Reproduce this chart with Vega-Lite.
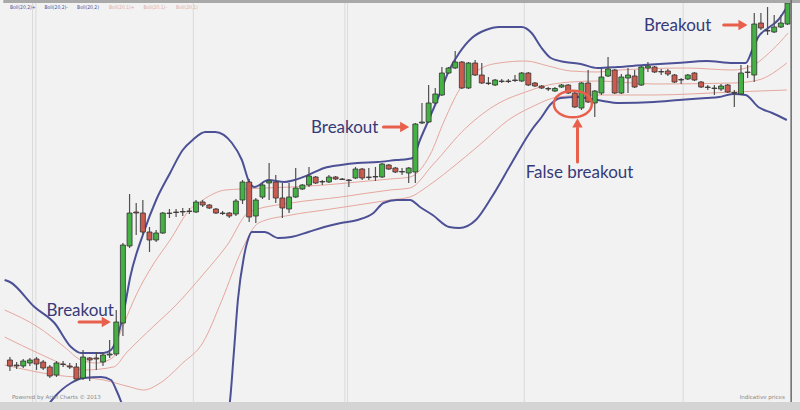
{
  "$schema": "https://vega.github.io/schema/vega-lite/v6.json",
  "width": 800,
  "height": 402,
  "autosize": {"type": "none"},
  "padding": {"left": 0, "top": 0, "right": 0, "bottom": 8},
  "background": "#d4d4d4",
  "config": {"view": {"fill": "#f2f2f2", "stroke": null}},
  "datasets": {
    "candles": [
      {"i":0,"o":42,"c":36,"h":45,"l":31},{"i":1,"o":37,"c":36,"h":40,"l":33},{"i":2,"o":36,"c":41,"h":43,"l":34},{"i":3,"o":39,"c":42,"h":44,"l":36},
      {"i":4,"o":43,"c":38,"h":45,"l":32},{"i":5,"o":40,"c":34,"h":42,"l":32},{"i":6,"o":35,"c":26,"h":37,"l":24},{"i":7,"o":27,"c":39,"h":41,"l":25},
      {"i":8,"o":38,"c":37.5,"h":41,"l":35},{"i":9,"o":36,"c":35,"h":39,"l":33},{"i":10,"o":35,"c":23,"h":39,"l":21},{"i":11,"o":24,"c":45,"h":52,"l":22},
      {"i":12,"o":44,"c":42,"h":45,"l":21},{"i":13,"o":44,"c":43,"h":50,"l":32},{"i":14,"o":40,"c":47,"h":50,"l":36},{"i":15,"o":47,"c":48,"h":62,"l":44},
      {"i":16,"o":48,"c":80,"h":92,"l":46},{"i":17,"o":79,"c":157,"h":159,"l":66},{"i":18,"o":156,"c":189,"h":208,"l":154},{"i":19,"o":190,"c":189,"h":199,"l":167},
      {"i":20,"o":189,"c":170,"h":202,"l":167},{"i":21,"o":170,"c":162,"h":175,"l":150},{"i":22,"o":162,"c":169,"h":172,"l":160},{"i":23,"o":169,"c":189,"h":190,"l":168},
      {"i":24,"o":189,"c":188.5,"h":193,"l":184},{"i":25,"o":190,"c":189.5,"h":193,"l":185},{"i":26,"o":190.5,"c":190,"h":194,"l":186},{"i":27,"o":191,"c":190.5,"h":194,"l":188},
      {"i":28,"o":190,"c":200,"h":202,"l":189},{"i":29,"o":200,"c":197,"h":202,"l":195},{"i":30,"o":197,"c":194,"h":198,"l":193},{"i":31,"o":193,"c":189,"h":194,"l":188},
      {"i":32,"o":189,"c":188.5,"h":191,"l":187},{"i":33,"o":189,"c":186,"h":190,"l":184},{"i":34,"o":188,"c":201,"h":203,"l":186},{"i":35,"o":202,"c":220,"h":222,"l":198},
      {"i":36,"o":220,"c":185,"h":223,"l":180},{"i":37,"o":186,"c":202,"h":204,"l":179},{"i":38,"o":205,"c":217,"h":219,"l":203},{"i":39,"o":219,"c":221,"h":239,"l":202},
      {"i":40,"o":220,"c":204,"h":227,"l":199},{"i":41,"o":204,"c":194,"h":219,"l":184},{"i":42,"o":193,"c":205,"h":219,"l":189},{"i":43,"o":205,"c":214,"h":234,"l":204},
      {"i":44,"o":213,"c":217,"h":218,"l":212},{"i":45,"o":217,"c":226,"h":235,"l":215},{"i":46,"o":225,"c":219,"h":226,"l":218},{"i":47,"o":220.5,"c":220,"h":222,"l":217},
      {"i":48,"o":220,"c":225,"h":227,"l":219},{"i":49,"o":225,"c":223,"h":226,"l":222},{"i":50,"o":223,"c":222.5,"h":224,"l":222},{"i":51,"o":222,"c":221.5,"h":223,"l":215},
      {"i":52,"o":224,"c":233,"h":235,"l":223},{"i":53,"o":233,"c":224,"h":234,"l":222},{"i":54,"o":225,"c":224.5,"h":234,"l":222},{"i":55,"o":225.5,"c":225,"h":235,"l":221},
      {"i":56,"o":225,"c":238,"h":239,"l":224},{"i":57,"o":237,"c":233,"h":238,"l":232},{"i":58,"o":234,"c":230,"h":235,"l":229},{"i":59,"o":230.5,"c":230,"h":234,"l":227},
      {"i":60,"o":229,"c":234,"h":235,"l":219},{"i":61,"o":230,"c":278,"h":279,"l":219},{"i":62,"o":279,"c":280,"h":299,"l":278},{"i":63,"o":280,"c":299,"h":317,"l":279},
      {"i":64,"o":299,"c":308,"h":314,"l":298},{"i":65,"o":307,"c":329,"h":335,"l":306},{"i":66,"o":329,"c":334,"h":335,"l":328},{"i":67,"o":334,"c":340,"h":351,"l":333},
      {"i":68,"o":340,"c":314,"h":341,"l":313},{"i":69,"o":314,"c":339,"h":340,"l":313},{"i":70,"o":339,"c":327,"h":342,"l":326},{"i":71,"o":327,"c":319,"h":339,"l":318},
      {"i":72,"o":319,"c":318.5,"h":325,"l":317},{"i":73,"o":317,"c":322,"h":323,"l":316},{"i":74,"o":321,"c":320.5,"h":323,"l":319},{"i":75,"o":321,"c":320.5,"h":323,"l":319},
      {"i":76,"o":322,"c":321.5,"h":327,"l":320},{"i":77,"o":321,"c":329,"h":330,"l":320},{"i":78,"o":329,"c":317,"h":330,"l":316},{"i":79,"o":319,"c":316,"h":320,"l":315},
      {"i":80,"o":316,"c":314,"h":317,"l":313},{"i":81,"o":313.5,"c":313,"h":315,"l":311},{"i":82,"o":311,"c":313.5,"h":315,"l":310},{"i":83,"o":315,"c":317,"h":318,"l":314},
      {"i":84,"o":317,"c":309,"h":318,"l":308},{"i":85,"o":309,"c":295,"h":310,"l":294},{"i":86,"o":294,"c":319,"h":320,"l":292},{"i":87,"o":319,"c":300,"h":332,"l":299},
      {"i":88,"o":299,"c":311,"h":312,"l":285},{"i":89,"o":309,"c":325,"h":335,"l":307},{"i":90,"o":326,"c":333,"h":345,"l":325},{"i":91,"o":332,"c":309,"h":333,"l":308},
      {"i":92,"o":309,"c":325,"h":328,"l":308},{"i":93,"o":324,"c":327,"h":334,"l":309},{"i":94,"o":326,"c":315,"h":332,"l":314},{"i":95,"o":317,"c":335,"h":336,"l":316},
      {"i":96,"o":334,"c":336,"h":340,"l":330},{"i":97,"o":335,"c":330,"h":336,"l":329},{"i":98,"o":330.5,"c":330,"h":333,"l":327},{"i":99,"o":331,"c":328,"h":333,"l":326},
      {"i":100,"o":327,"c":320,"h":328,"l":319},{"i":101,"o":322.5,"c":322,"h":324,"l":318},{"i":102,"o":323,"c":327,"h":328,"l":322},{"i":103,"o":329,"c":322,"h":330,"l":321},
      {"i":104,"o":320,"c":315,"h":321,"l":314},{"i":105,"o":315,"c":314.5,"h":317,"l":312},{"i":106,"o":314,"c":313.5,"h":317,"l":307},{"i":107,"o":313,"c":316,"h":318,"l":311},
      {"i":108,"o":317,"c":310,"h":318,"l":309},{"i":109,"o":309.5,"c":309,"h":312,"l":295},{"i":110,"o":308,"c":329,"h":337,"l":307},{"i":111,"o":330,"c":329.5,"h":337,"l":324},
      {"i":112,"o":327,"c":378,"h":389,"l":320},{"i":113,"o":379,"c":374,"h":389,"l":372},{"i":114,"o":371.5,"c":371,"h":395,"l":367},{"i":115,"o":370,"c":375,"h":387,"l":369},
      {"i":116,"o":375,"c":379,"h":387,"l":374},{"i":117,"o":378,"c":399,"h":400,"l":377}
    ],
    "bands": [
      {"s":"bu","i":-0.8,"v":122},{"s":"bu","i":0,"v":120},{"s":"bu","i":3.7,"v":95},{"s":"bu","i":6.7,"v":79},{"s":"bu","i":9.2,"v":55},{"s":"bu","i":10.7,"v":49},{"s":"bu","i":14.1,"v":49},{"s":"bu","i":15.2,"v":52},{"s":"bu","i":16,"v":62},{"s":"bu","i":17.1,"v":89},{"s":"bu","i":18.1,"v":125},{"s":"bu","i":20.1,"v":169},{"s":"bu","i":22,"v":202},{"s":"bu","i":24.1,"v":229},{"s":"bu","i":26,"v":252},{"s":"bu","i":27.5,"v":262},{"s":"bu","i":29.4,"v":270},{"s":"bu","i":30.9,"v":270},{"s":"bu","i":33.4,"v":259},{"s":"bu","i":34.9,"v":242},{"s":"bu","i":36,"v":220},{"s":"bu","i":36.8,"v":215},{"s":"bu","i":38.9,"v":222},{"s":"bu","i":41.3,"v":220},{"s":"bu","i":42.8,"v":222},{"s":"bu","i":44.9,"v":227},{"s":"bu","i":47.3,"v":234},{"s":"bu","i":49.8,"v":237},{"s":"bu","i":52.3,"v":239},{"s":"bu","i":55.3,"v":240},{"s":"bu","i":58.2,"v":242},{"s":"bu","i":59.9,"v":243},{"s":"bu","i":60.6,"v":244},{"s":"bu","i":61.7,"v":262},{"s":"bu","i":63.2,"v":285},{"s":"bu","i":64.6,"v":307},{"s":"bu","i":66.1,"v":332},{"s":"bu","i":67.6,"v":349},{"s":"bu","i":69.5,"v":364},{"s":"bu","i":71.6,"v":372},{"s":"bu","i":73.6,"v":375},{"s":"bu","i":77,"v":375},{"s":"bu","i":78.5,"v":369},{"s":"bu","i":79.9,"v":355},{"s":"bu","i":81.4,"v":344},{"s":"bu","i":83.5,"v":340},{"s":"bu","i":85.9,"v":338},{"s":"bu","i":88.4,"v":334},{"s":"bu","i":91.4,"v":335},{"s":"bu","i":95.4,"v":337},{"s":"bu","i":100.3,"v":339},{"s":"bu","i":104.8,"v":341},{"s":"bu","i":108.8,"v":339},{"s":"bu","i":110.7,"v":339},{"s":"bu","i":111.7,"v":352},{"s":"bu","i":112.6,"v":365},{"s":"bu","i":114.1,"v":374},{"s":"bu","i":115.6,"v":382},{"s":"bu","i":117.1,"v":397},
      {"s":"bl","i":5.2,"v":-8},{"s":"bl","i":6.7,"v":5},{"s":"bl","i":9.2,"v":19},{"s":"bl","i":11.1,"v":24},{"s":"bl","i":13.7,"v":25},{"s":"bl","i":15.2,"v":22},{"s":"bl","i":16,"v":12},{"s":"bl","i":16.8,"v":-1},{"s":"bl","i":18,"v":-25},{"s":"bl","i":25,"v":-70},{"s":"bl","i":32,"v":-25},{"s":"bl","i":33,"v":-5},{"s":"bl","i":33.7,"v":50},{"s":"bl","i":34.3,"v":102},{"s":"bl","i":35.2,"v":145},{"s":"bl","i":35.8,"v":162},{"s":"bl","i":36.4,"v":170},{"s":"bl","i":38.3,"v":170},{"s":"bl","i":40.4,"v":164},{"s":"bl","i":42.3,"v":165},{"s":"bl","i":44.9,"v":170},{"s":"bl","i":47.3,"v":175},{"s":"bl","i":49.8,"v":179},{"s":"bl","i":52.3,"v":182},{"s":"bl","i":54.7,"v":189},{"s":"bl","i":56.2,"v":199},{"s":"bl","i":58.2,"v":202},{"s":"bl","i":60.2,"v":202},{"s":"bl","i":61.7,"v":195},{"s":"bl","i":63.6,"v":187},{"s":"bl","i":66.1,"v":175},{"s":"bl","i":67.6,"v":174},{"s":"bl","i":70.1,"v":182},{"s":"bl","i":72.5,"v":205},{"s":"bl","i":75.5,"v":239},{"s":"bl","i":78.5,"v":272},{"s":"bl","i":79.9,"v":284},{"s":"bl","i":81.4,"v":298},{"s":"bl","i":82.9,"v":304},{"s":"bl","i":85.4,"v":305},{"s":"bl","i":88.4,"v":302},{"s":"bl","i":91.8,"v":299},{"s":"bl","i":96.9,"v":300},{"s":"bl","i":100.7,"v":302},{"s":"bl","i":104.8,"v":304},{"s":"bl","i":106.7,"v":305},{"s":"bl","i":108.8,"v":308},{"s":"bl","i":110.7,"v":307},{"s":"bl","i":112.6,"v":295},{"s":"bl","i":114.7,"v":289},{"s":"bl","i":116.9,"v":282},
      {"s":"pu","i":-0.8,"v":92},{"s":"pu","i":4.2,"v":75},{"s":"pu","i":8.2,"v":55},{"s":"pu","i":10.7,"v":42},{"s":"pu","i":13.1,"v":39},{"s":"pu","i":15.6,"v":45},{"s":"pu","i":16,"v":57},{"s":"pu","i":17.1,"v":77},{"s":"pu","i":19,"v":107},{"s":"pu","i":21.5,"v":137},{"s":"pu","i":24.1,"v":162},{"s":"pu","i":27,"v":192},{"s":"pu","i":29,"v":202},{"s":"pu","i":32.4,"v":212},{"s":"pu","i":34.9,"v":213},{"s":"pu","i":42.3,"v":215},{"s":"pu","i":47.3,"v":217},{"s":"pu","i":52.3,"v":220},{"s":"pu","i":57.2,"v":223},{"s":"pu","i":60.2,"v":225},{"s":"pu","i":63.2,"v":247},{"s":"pu","i":65.4,"v":282},{"s":"pu","i":67.6,"v":312},{"s":"pu","i":71,"v":334},{"s":"pu","i":73.6,"v":339},{"s":"pu","i":77.6,"v":341},{"s":"pu","i":81,"v":336},{"s":"pu","i":84.4,"v":331},{"s":"pu","i":88.4,"v":330},{"s":"pu","i":91.8,"v":332},{"s":"pu","i":101.8,"v":334},{"s":"pu","i":108.8,"v":332},{"s":"pu","i":111.6,"v":336},{"s":"pu","i":114.7,"v":352},{"s":"pu","i":117.1,"v":369},
      {"s":"pm","i":-0.8,"v":65},{"s":"pm","i":4.2,"v":49},{"s":"pm","i":9.2,"v":35},{"s":"pm","i":11.1,"v":32},{"s":"pm","i":15.6,"v":35},{"s":"pm","i":17.5,"v":49},{"s":"pm","i":21.5,"v":75},{"s":"pm","i":25,"v":97},{"s":"pm","i":29,"v":127},{"s":"pm","i":32.7,"v":157},{"s":"pm","i":36,"v":190},{"s":"pm","i":42.3,"v":199},{"s":"pm","i":49.8,"v":205},{"s":"pm","i":57.2,"v":212},{"s":"pm","i":60.2,"v":214},{"s":"pm","i":63.6,"v":237},{"s":"pm","i":68.6,"v":274},{"s":"pm","i":73.6,"v":299},{"s":"pm","i":77.6,"v":310},{"s":"pm","i":81,"v":317},{"s":"pm","i":84.4,"v":320},{"s":"pm","i":88.4,"v":321},{"s":"pm","i":96.9,"v":318},{"s":"pm","i":108.8,"v":319},{"s":"pm","i":112.6,"v":322},{"s":"pm","i":116.9,"v":339},
      {"s":"pl","i":-0.8,"v":37},{"s":"pl","i":6.7,"v":27},{"s":"pl","i":14.1,"v":22},{"s":"pl","i":18.1,"v":15},{"s":"pl","i":20.1,"v":12},{"s":"pl","i":22.6,"v":19},{"s":"pl","i":26,"v":39},{"s":"pl","i":29,"v":59},{"s":"pl","i":31.9,"v":102},{"s":"pl","i":34.9,"v":152},{"s":"pl","i":37.4,"v":179},{"s":"pl","i":42.3,"v":187},{"s":"pl","i":47.3,"v":192},{"s":"pl","i":52.3,"v":197},{"s":"pl","i":57.2,"v":202},{"s":"pl","i":60.2,"v":205},{"s":"pl","i":62.7,"v":215},{"s":"pl","i":66.1,"v":232},{"s":"pl","i":71,"v":259},{"s":"pl","i":75,"v":282},{"s":"pl","i":78.5,"v":295},{"s":"pl","i":82.5,"v":305},{"s":"pl","i":86.9,"v":307},{"s":"pl","i":96.9,"v":307},{"s":"pl","i":108.8,"v":310},{"s":"pl","i":116.9,"v":312}
    ],
    "vgrid": [{"i":3.4},{"i":3.9},{"i":27.6},{"i":50.4},{"i":50.8},{"i":77.4},{"i":101.3}],
    "frame": [{"i":-1,"i2":119,"v":399,"v2":402}],
    "border": [{"i":117.55}],
    "notes": [
      {"i":5.5,"v":91,"t":"Breakout"},
      {"i":45.3,"v":274,"t":"Breakout"},
      {"i":77.6,"v":229,"t":"False breakout"},
      {"i":95.4,"v":376,"t":"Breakout"}
    ],
    "legend": [
      {"i":0,"v":395,"t":"Boll(20,2)+","k":"b"},
      {"i":5.2,"v":395,"t":"Boll(20,2)-","k":"b"},
      {"i":10.1,"v":395,"t":"Boll(20,2)","k":"b"},
      {"i":14.9,"v":395,"t":"Boll(20,1)+","k":"p"},
      {"i":20.1,"v":395,"t":"Boll(20,1)-","k":"p"},
      {"i":25.0,"v":395,"t":"Boll(20,1)","k":"p"}
    ],
    "footLeft": [{"i":0.3,"v":5,"t":"Powered by Ariel Charts © 2013"}],
    "footRight": [{"i":116.6,"v":5,"t":"Indicative prices"}],
    "shafts": [
      {"i":10.4,"v":80,"i2":14.0,"v2":80},
      {"i":56.2,"v":275,"i2":58.9,"v2":275},
      {"i":85.4,"v":240,"i2":85.4,"v2":274},
      {"i":107.4,"v":377,"i2":109.8,"v2":377}
    ],
    "heads": [
      {"i":14.5,"v":80,"d":"triangle-right"},
      {"i":59.4,"v":275,"d":"triangle-right"},
      {"i":85.4,"v":279,"d":"triangle-up"},
      {"i":110.3,"v":377,"d":"triangle-right"}
    ],
    "ring": [{"i":84.7,"v":298}]
  },
  "layer": [
    {
      "data": {"name": "vgrid"},
      "mark": {"type": "rule", "color": "#dadada", "strokeWidth": 1},
      "encoding": {
        "x": {"field": "i", "type": "quantitative", "scale": {"domain": [-0.743, 118.13], "nice": false, "zero": false},
              "axis": {"labels": false, "title": null, "grid": false, "tickCount": 60, "tickSize": 4, "tickColor": "#555555", "domainColor": "#666666", "domainWidth": 1.5}}
      }
    },
    {
      "data": {"name": "bands"},
      "transform": [{"filter": {"field": "s", "oneOf": ["pu", "pm", "pl"]}}],
      "mark": {"type": "line", "color": "#e6a79e", "strokeWidth": 1, "interpolate": "monotone", "clip": true},
      "encoding": {
        "x": {"field": "i", "type": "quantitative", "scale": {"domain": [-0.743, 118.13], "nice": false, "zero": false}, "axis": null},
        "y": {"field": "v", "type": "quantitative", "scale": {"domain": [0, 402], "nice": false, "zero": false},
              "axis": {"grid": true, "values": [82, 165, 247, 329], "labels": false, "ticks": false, "domain": false, "title": null, "gridColor": "#dcdcdc"}},
        "detail": {"field": "s"}
      }
    },
    {
      "data": {"name": "bands"},
      "transform": [{"filter": {"field": "s", "oneOf": ["bu", "bl"]}}],
      "mark": {"type": "line", "color": "#4c5196", "strokeWidth": 2, "interpolate": "monotone", "clip": true},
      "encoding": {
        "x": {"field": "i", "type": "quantitative", "scale": {"domain": [-0.743, 118.13], "nice": false, "zero": false}, "axis": null},
        "y": {"field": "v", "type": "quantitative", "scale": {"domain": [0, 402], "nice": false, "zero": false}, "axis": null},
        "detail": {"field": "s"}
      }
    },
    {
      "data": {"name": "candles"},
      "mark": {"type": "rule", "color": "#505050", "strokeWidth": 1.2},
      "encoding": {
        "x": {"field": "i", "type": "quantitative", "scale": {"domain": [-0.743, 118.13], "nice": false, "zero": false}, "axis": null},
        "y": {"field": "l", "type": "quantitative", "scale": {"domain": [0, 402], "nice": false, "zero": false}, "axis": null},
        "y2": {"field": "h"}
      }
    },
    {
      "data": {"name": "candles"},
      "mark": {"type": "bar", "width": 5, "stroke": "#333333", "strokeWidth": 0.8},
      "encoding": {
        "x": {"field": "i", "type": "quantitative", "scale": {"domain": [-0.743, 118.13], "nice": false, "zero": false}, "axis": null},
        "y": {"field": "o", "type": "quantitative", "scale": {"domain": [0, 402], "nice": false, "zero": false}, "axis": null},
        "y2": {"field": "c"},
        "color": {"condition": {"test": "datum.c >= datum.o", "value": "#45b043"}, "value": "#cc5b4f"}
      }
    },
    {
      "data": {"name": "frame"},
      "mark": {"type": "rect", "color": "#a9a9a9", "clip": true},
      "encoding": {
        "x": {"field": "i", "type": "quantitative", "scale": {"domain": [-0.743, 118.13], "nice": false, "zero": false}, "axis": null},
        "x2": {"field": "i2"},
        "y": {"field": "v", "type": "quantitative", "scale": {"domain": [0, 402], "nice": false, "zero": false}, "axis": null},
        "y2": {"field": "v2"}
      }
    },
    {
      "data": {"name": "border"},
      "mark": {"type": "rule", "color": "#6a6a6a", "strokeWidth": 1.5},
      "encoding": {
        "x": {"field": "i", "type": "quantitative", "scale": {"domain": [-0.743, 118.13], "nice": false, "zero": false}, "axis": null}
      }
    },
    {
      "data": {"name": "shafts"},
      "mark": {"type": "rule", "color": "#e8604c", "strokeWidth": 3, "strokeCap": "round"},
      "encoding": {
        "x": {"field": "i", "type": "quantitative", "scale": {"domain": [-0.743, 118.13], "nice": false, "zero": false}, "axis": null},
        "x2": {"field": "i2"},
        "y": {"field": "v", "type": "quantitative", "scale": {"domain": [0, 402], "nice": false, "zero": false}, "axis": null},
        "y2": {"field": "v2"}
      }
    },
    {
      "data": {"name": "heads"},
      "mark": {"type": "point", "filled": true, "color": "#e8604c", "size": 110, "opacity": 1},
      "encoding": {
        "x": {"field": "i", "type": "quantitative", "scale": {"domain": [-0.743, 118.13], "nice": false, "zero": false}, "axis": null},
        "y": {"field": "v", "type": "quantitative", "scale": {"domain": [0, 402], "nice": false, "zero": false}, "axis": null},
        "shape": {"field": "d", "type": "nominal", "scale": null}
      }
    },
    {
      "data": {"name": "ring"},
      "mark": {"type": "point", "filled": false, "color": "#e8604c", "strokeWidth": 2.5, "size": 1444, "opacity": 1,
               "shape": "M -1 0 A 1 0.7 0 1 0 1 0 A 1 0.7 0 1 0 -1 0 Z"},
      "encoding": {
        "x": {"field": "i", "type": "quantitative", "scale": {"domain": [-0.743, 118.13], "nice": false, "zero": false}, "axis": null},
        "y": {"field": "v", "type": "quantitative", "scale": {"domain": [0, 402], "nice": false, "zero": false}, "axis": null}
      }
    },
    {
      "data": {"name": "notes"},
      "mark": {"type": "text", "align": "left", "baseline": "middle", "font": "Lato", "fontSize": 17, "color": "#363a78"},
      "encoding": {
        "x": {"field": "i", "type": "quantitative", "scale": {"domain": [-0.743, 118.13], "nice": false, "zero": false}, "axis": null},
        "y": {"field": "v", "type": "quantitative", "scale": {"domain": [0, 402], "nice": false, "zero": false}, "axis": null},
        "text": {"field": "t"}
      }
    },
    {
      "data": {"name": "legend"},
      "mark": {"type": "text", "align": "left", "baseline": "middle", "font": "Liberation Sans Narrow, DejaVu Sans Condensed, sans-serif", "fontSize": 5},
      "encoding": {
        "x": {"field": "i", "type": "quantitative", "scale": {"domain": [-0.743, 118.13], "nice": false, "zero": false}, "axis": null},
        "y": {"field": "v", "type": "quantitative", "scale": {"domain": [0, 402], "nice": false, "zero": false}, "axis": null},
        "text": {"field": "t"},
        "color": {"field": "k", "type": "nominal", "scale": {"domain": ["b", "p"], "range": ["#4a4f9a", "#e3aaa2"]}, "legend": null}
      }
    },
    {
      "data": {"name": "footLeft"},
      "mark": {"type": "text", "align": "left", "baseline": "middle", "font": "DejaVu Sans", "fontSize": 5.5, "color": "#8a8a8a"},
      "encoding": {
        "x": {"field": "i", "type": "quantitative", "scale": {"domain": [-0.743, 118.13], "nice": false, "zero": false}, "axis": null},
        "y": {"field": "v", "type": "quantitative", "scale": {"domain": [0, 402], "nice": false, "zero": false}, "axis": null},
        "text": {"field": "t"}
      }
    },
    {
      "data": {"name": "footRight"},
      "mark": {"type": "text", "align": "right", "baseline": "middle", "font": "DejaVu Sans", "fontSize": 5.5, "color": "#8a8a8a"},
      "encoding": {
        "x": {"field": "i", "type": "quantitative", "scale": {"domain": [-0.743, 118.13], "nice": false, "zero": false}, "axis": null},
        "y": {"field": "v", "type": "quantitative", "scale": {"domain": [0, 402], "nice": false, "zero": false}, "axis": null},
        "text": {"field": "t"}
      }
    }
  ]
}
